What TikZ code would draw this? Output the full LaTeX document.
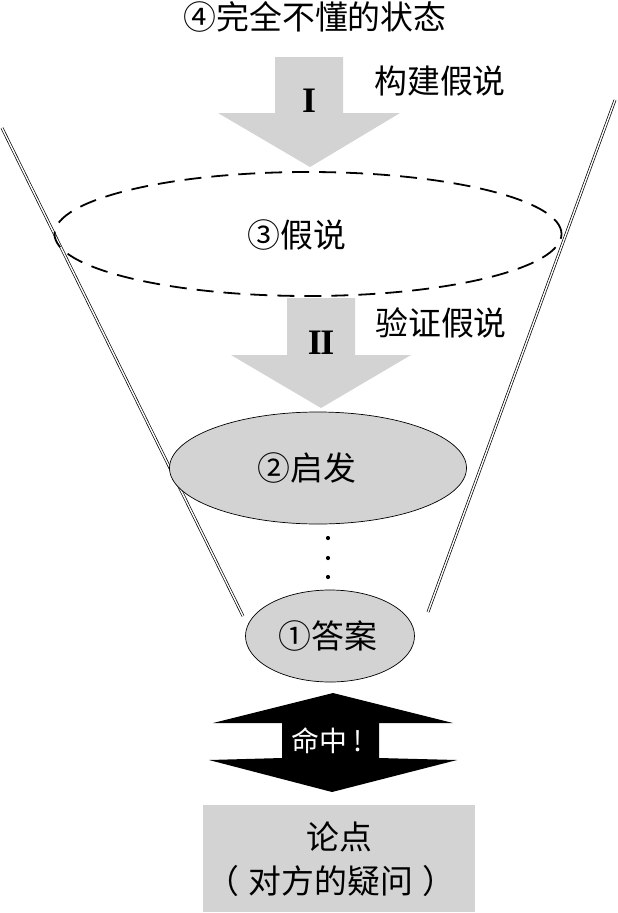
\documentclass[tikz,border=0pt]{standalone}
\usepackage{fontspec}
\setmainfont{Noto Sans CJK SC}
\newfontfamily\romanfont{Liberation Serif}
\usetikzlibrary{shapes.geometric}
\definecolor{lgray}{RGB}{211,211,211}
\tikzset{
  cjk/.style={font=\fontsize{33}{38}\selectfont, inner sep=0pt},
  bigarrow/.style={fill=lgray, draw=none},
  funnel/.style={double, double distance=1.4bp, line width=0.7bp, draw=black},
  grayell/.style={ellipse, fill=lgray, draw=black, line width=0.7bp, inner sep=0pt},
  dotmark/.style={circle, fill=black, inner sep=0pt, minimum size=4.2bp}
}
\begin{document}
\begin{tikzpicture}[x=1bp,y=-1bp]
\useasboundingbox (0,0) rectangle (618,913);

% funnel lines
\coordinate (lt) at (2,128);
\coordinate (lb) at (243,616);
\coordinate (rt) at (615,100);
\coordinate (rb) at (428,612);
\draw[funnel] (lt) -- (lb);
\draw[funnel] (rt) -- (rb);

% title
\node[cjk] (title) at (315,17) {④完全不懂的状态};

% arrow I
\fill[bigarrow] (275,57) -- (343,57) -- (343,113) -- (400,113) -- (310,167) -- (218,113) -- (275,113) -- cycle;
\node[font=\romanfont\bfseries\fontsize{36}{40}\selectfont, inner sep=0pt] (one) at (309,101) {I};
\node[cjk] (build) at (440,81) {构建假说};

% dashed ellipse
\node[ellipse, draw=black, line width=1.8bp, dash pattern=on 17bp off 10bp, minimum width=507bp, minimum height=124bp, inner sep=0pt] (hyp) at (308,234) {};
\node[cjk] (hyptext) at (297,235) {③假说};

% arrow II
\fill[bigarrow] (287,298) -- (355,298) -- (355,355) -- (411,355) -- (321,408) -- (231,355) -- (287,355) -- cycle;
\node[font=\romanfont\bfseries\fontsize{36}{40}\selectfont, inner sep=0pt] (two) at (321,343) {I\kern-1.5bp I};
\node[cjk] (verify) at (441,323) {验证假说};

% ellipse 2
\node[grayell, minimum width=297bp, minimum height=112bp] (insp) at (318,468) {};
\node[cjk] (insptext) at (307,468) {②启发};

% dots
\node[dotmark] (d1) at (328,538) {};
\node[dotmark] (d2) at (328,558) {};
\node[dotmark] (d3) at (328,577) {};

% ellipse 1
\node[grayell, minimum width=169bp, minimum height=92bp] (ans) at (330,636) {};
\node[cjk] (anstext) at (328,636) {①答案};

% double arrow
\fill[black] (333,693) -- (453,723) -- (379,723) -- (379,758) -- (457,760) -- (332,792) -- (209,760) -- (282,758) -- (282,723) -- (213,723) -- cycle;
\node[cjk, text=white, font=\fontsize{28}{32}\selectfont] (hit) at (330,741) {命中\makebox[22bp][c]{!}};

% box
\node[fill=lgray, minimum width=272bp, minimum height=107bp, inner sep=0pt] (box) at (339,858.5) {};
\node[cjk] (pt1) at (339,837) {论点};
\node[cjk] (pt2) at (331,881) {（\hspace{9bp}对方的疑问\hspace{9bp}）};
\end{tikzpicture}
\end{document}
